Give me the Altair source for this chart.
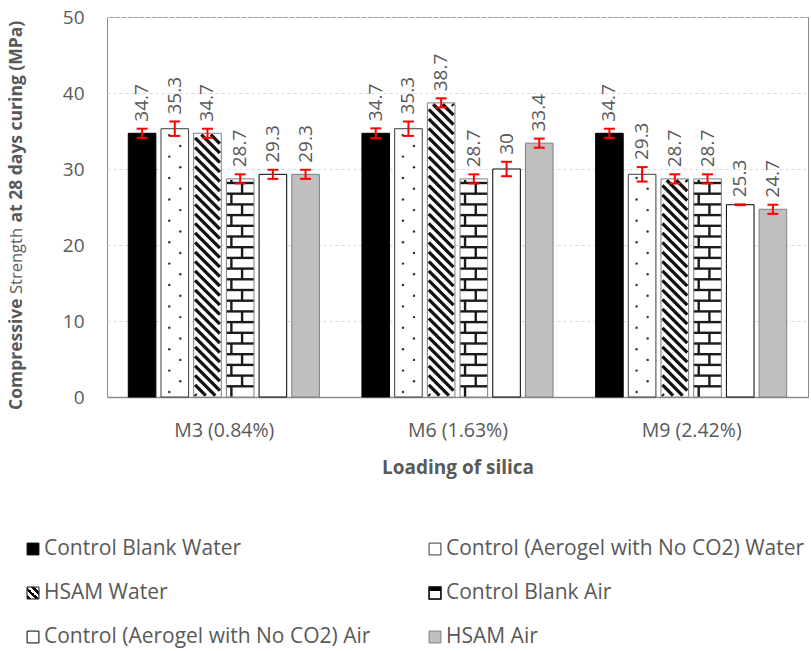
import json
import altair as alt
import pandas as pd

# ---------------- data ----------------
groups = ["M3 (0.84%)", "M6 (1.63%)", "M9 (2.42%)"]
series = [
    "Control Blank Water",
    "Control (Aerogel with No CO2) Water",
    "HSAM Water",
    "Control Blank Air",
    "Control (Aerogel with No CO2) Air",
    "HSAM Air",
]

control_blank_water = [34.7, 34.7, 34.7]
control_aerogel_water = [35.3, 35.3, 29.3]
hsam_water = [34.7, 38.7, 28.7]
control_blank_air = [28.7, 28.7, 28.7]
control_aerogel_air = [29.3, 30.0, 25.3]
hsam_air = [29.3, 33.4, 24.7]

err_control_blank_water = [0.6, 0.65, 0.6]
err_control_aerogel_water = [0.95, 0.95, 0.95]
err_hsam_water = [0.6, 0.6, 0.6]
err_control_blank_air = [0.6, 0.6, 0.6]
err_control_aerogel_air = [0.6, 0.95, 0.05]
err_hsam_air = [0.6, 0.6, 0.6]

y_ticks = [0, 10, 20, 30, 40, 50]

# ---------------- layout / style constants ----------------
W, H = 701, 380
LEFT, TOP = 107, 17
Y_MAX = 50
PX_X = W / 3.0
PX_Y = H / Y_MAX
PITCH = 32.7 / PX_X
HALF = 13.8 / PX_X
BAR_PX = 27.6
CAP = 5.5 / PX_X
GRAY_TXT = "#595959"

values_by_series = [control_blank_water, control_aerogel_water, hsam_water,
                    control_blank_air, control_aerogel_air, hsam_air]
errs_by_series = [err_control_blank_water, err_control_aerogel_water, err_hsam_water,
                  err_control_blank_air, err_control_aerogel_air, err_hsam_air]

rows = []
for gi, g in enumerate(groups):
    for si, s in enumerate(series):
        v = values_by_series[si][gi]
        e = errs_by_series[si][gi]
        c = gi + 0.5 + (si - 2.5) * PITCH
        rows.append(dict(group=g, series=s, value=v, err=e, base=0.0, center=c,
                         left=c - HALF, right=c + HALF, lo=v - e, hi=v + e,
                         label=f"{v:g}"))
bars = pd.DataFrame(rows)

caps = pd.concat([
    bars.assign(cy=bars["lo"], cl=bars["center"] - CAP, cr=bars["center"] + CAP),
    bars.assign(cy=bars["hi"], cl=bars["center"] - CAP, cr=bars["center"] + CAP),
])

# --- pattern geometry derived from the bar values ---
hatch, dots, brick_h, brick_v = [], [], [], []
for r in rows:
    hpx = r["value"] * PX_Y
    w = BAR_PX
    x0 = r["left"]
    if r["series"] == "HSAM Water":
        m = 1.4
        k = 4.0
        while k < hpx + w:
            u1 = max(m, k - (hpx - m))
            u2 = min(w - m, k - m)
            if u2 - u1 > 0.8:
                hatch.append(dict(xa=x0 + u1 / PX_X, ya=(k - u1) / PX_Y,
                                  xb=x0 + u2 / PX_X, yb=(k - u2) / PX_Y))
            k += 9.5
    elif r["series"] == "Control (Aerogel with No CO2) Water":
        v = 5.0
        j = 0
        while v < hpx - 3:
            u = 0.30 * w if j % 2 == 0 else 0.70 * w
            dots.append(dict(dx_=x0 + u / PX_X, dy_=v / PX_Y))
            v += 10.7
            j += 1
    elif r["series"] == "Control Blank Air":
        step = 10.7
        n = 1
        while n * step < hpx - 1.5:
            brick_h.append(dict(hl=x0, hr=r["right"], hy=n * step / PX_Y))
            n += 1
        j = 0
        while j * step < hpx - 1:
            lo = j * step
            hi = min((j + 1) * step, hpx - 1)
            us = [5.0, 26.3] if j % 2 == 0 else [15.7]
            for u in us:
                if 1.5 < u < w - 1.5:
                    brick_v.append(dict(vx=x0 + u / PX_X, vlo=lo / PX_Y, vhi=hi / PX_Y))
            j += 1

hatch = pd.DataFrame(hatch)
dots = pd.DataFrame(dots)
brick_h = pd.DataFrame(brick_h)
brick_v = pd.DataFrame(brick_v)

# legend placed below the plot, expressed in the chart's own data units
def x_units(px_abs):
    return (px_abs - LEFT) / PX_X

def y_units(py_abs):
    return Y_MAX - (py_abs - TOP) / PX_Y

legend_df = pd.DataFrame({
    "name": series,
    "lx": [x_units(33), x_units(435)] * 3,
    "ly": [y_units(549)] * 2 + [y_units(593)] * 2 + [y_units(637)] * 2,
})

# ---------------- scales / axes ----------------
SX = alt.Scale(domain=[0, 3], nice=False, zero=False)
SY = alt.Scale(domain=[0, Y_MAX], nice=False, zero=True)

fill_scale = alt.Scale(domain=series, range=["#000000", "#ffffff", "#ffffff", "#ffffff", "#ffffff", "#bfbfbf"])
stroke_scale = alt.Scale(domain=series, range=["#000000", "#3a3a3a", "#7f7f7f", "#7f7f7f", "#000000", "#7f7f7f"])
sw_scale = alt.Scale(domain=series, range=[1, 1, 1, 1, 3, 1])

label_expr = json.dumps(groups) + "[floor(datum.value)]"

x_axis = alt.Axis(values=[0.5, 1.5, 2.5], labelExpr=label_expr, title="Loading of silica",
                  ticks=False, grid=False, domain=True, domainColor="#8c8c8c", domainWidth=1.5,
                  labelFontSize=19.5, labelColor=GRAY_TXT, labelPadding=24,
                  titleFontSize=19, titleFontWeight="bold", titleColor=GRAY_TXT, titlePadding=19)
y_axis = alt.Axis(values=y_ticks, title=None, ticks=False, domain=False, grid=True,
                  gridColor="#d9d9d9", gridDash=[3, 3], gridWidth=1,
                  labelFontSize=19, labelColor=GRAY_TXT, labelPadding=23)

base = alt.Chart(bars)

bar_fill = base.mark_rect(strokeWidth=0).encode(
    x=alt.X("left:Q", scale=SX, axis=x_axis),
    x2="right:Q",
    y=alt.Y("value:Q", scale=SY, axis=y_axis),
    y2="base:Q",
    fill=alt.Fill("series:N", scale=fill_scale, legend=None),
)

hatch_layer = alt.Chart(hatch).mark_rule(color="#111111", strokeWidth=3.3, strokeCap="butt").encode(
    x=alt.X("xa:Q", scale=SX, axis=x_axis), x2="xb:Q",
    y=alt.Y("ya:Q", scale=SY, axis=y_axis), y2="yb:Q",
)

dots_layer = alt.Chart(dots).mark_circle(color="#333333", size=6, opacity=1).encode(
    x=alt.X("dx_:Q", scale=SX, axis=x_axis),
    y=alt.Y("dy_:Q", scale=SY, axis=y_axis),
)

brick_h_layer = alt.Chart(brick_h).mark_rule(color="#1a1a1a", strokeWidth=2.4).encode(
    x=alt.X("hl:Q", scale=SX, axis=x_axis), x2="hr:Q",
    y=alt.Y("hy:Q", scale=SY, axis=y_axis),
)

brick_v_layer = alt.Chart(brick_v).mark_rule(color="#1a1a1a", strokeWidth=2.4).encode(
    x=alt.X("vx:Q", scale=SX, axis=x_axis),
    y=alt.Y("vlo:Q", scale=SY, axis=y_axis), y2="vhi:Q",
)

bar_outline = base.mark_rect(fillOpacity=0).encode(
    x=alt.X("left:Q", scale=SX, axis=x_axis),
    x2="right:Q",
    y=alt.Y("value:Q", scale=SY, axis=y_axis),
    y2="base:Q",
    stroke=alt.Stroke("series:N", scale=stroke_scale, legend=None),
    strokeWidth=alt.StrokeWidth("series:N", scale=sw_scale, legend=None),
)

err_layer = base.mark_rule(color="#ff0000", strokeWidth=2).encode(
    x=alt.X("center:Q", scale=SX, axis=x_axis),
    y=alt.Y("lo:Q", scale=SY, axis=y_axis), y2="hi:Q",
)

cap_layer = alt.Chart(caps).mark_rule(color="#ff0000", strokeWidth=2).encode(
    x=alt.X("cl:Q", scale=SX, axis=x_axis), x2="cr:Q",
    y=alt.Y("cy:Q", scale=SY, axis=y_axis),
)

label_layer = base.mark_text(angle=270, align="left", baseline="middle", dx=7,
                             fontSize=19, color=GRAY_TXT).encode(
    x=alt.X("center:Q", scale=SX, axis=x_axis),
    y=alt.Y("hi:Q", scale=SY, axis=y_axis),
    text="label:N",
)

# ---------------- custom legend ----------------
lbase = alt.Chart(legend_df)
swatch = lbase.mark_square(size=140, opacity=1).encode(
    x=alt.X("lx:Q", scale=SX, axis=x_axis),
    y=alt.Y("ly:Q", scale=SY, axis=y_axis),
    fill=alt.Fill("name:N", scale=fill_scale, legend=None),
    stroke=alt.Stroke("name:N", scale=stroke_scale, legend=None),
    strokeWidth=alt.StrokeWidth("name:N", scale=sw_scale, legend=None),
)

hatch_stops = []
for i in range(6):
    c = "#000000" if i % 2 == 0 else "#ffffff"
    hatch_stops.append(alt.GradientStop(color=c, offset=i / 6))
    hatch_stops.append(alt.GradientStop(color=c, offset=(i + 1) / 6))
hatch_grad = alt.LinearGradient(gradient="linear", stops=hatch_stops, x1=0, y1=1, x2=1, y2=0)

brick_grad = alt.LinearGradient(gradient="linear", stops=[
    alt.GradientStop(color="#000000", offset=0),
    alt.GradientStop(color="#000000", offset=0.3),
    alt.GradientStop(color="#ffffff", offset=0.3),
    alt.GradientStop(color="#ffffff", offset=1),
], x1=0, y1=0, x2=0, y2=1)

swatch_hatch = lbase.transform_filter(alt.datum.name == "HSAM Water").mark_square(
    size=140, opacity=1, fill=hatch_grad, stroke="#333333", strokeWidth=1).encode(
    x=alt.X("lx:Q", scale=SX, axis=x_axis),
    y=alt.Y("ly:Q", scale=SY, axis=y_axis),
)
swatch_brick = lbase.transform_filter(alt.datum.name == "Control Blank Air").mark_square(
    size=140, opacity=1, fill=brick_grad, stroke="#000000", strokeWidth=1.5).encode(
    x=alt.X("lx:Q", scale=SX, axis=x_axis),
    y=alt.Y("ly:Q", scale=SY, axis=y_axis),
)

leg_text = lbase.mark_text(align="left", baseline="middle", dx=11, fontSize=21, color=GRAY_TXT).encode(
    x=alt.X("lx:Q", scale=SX, axis=x_axis),
    y=alt.Y("ly:Q", scale=SY, axis=y_axis),
    text="name:N",
)

# ---------------- y-axis title (mixed weights) ----------------
one = pd.DataFrame({"k": [0]})
yt_parts = [("Compressive", "bold", 17.5, 393), ("Strength", "normal", 16.5, 277),
            ("at 28 days curing (MPa)", "bold", 17.5, 205.5)]
yt_layers = []
for txt, wgt, fs, ypos in yt_parts:
    yt_layers.append(
        alt.Chart(one).mark_text(angle=270, align="left", baseline="middle", fontSize=fs,
                                 fontWeight=wgt, color=GRAY_TXT).encode(
            x=alt.value(-90), y=alt.value(ypos), text=alt.value(txt))
    )

chart = alt.layer(
    bar_fill, hatch_layer, dots_layer, brick_h_layer, brick_v_layer,
    bar_outline, err_layer, cap_layer, label_layer,
    swatch, swatch_hatch, swatch_brick, leg_text, *yt_layers,
).properties(
    width=W, height=H,
    autosize=alt.AutoSizeParams(type="none"),
    padding={"left": LEFT, "top": TOP, "right": 811 - LEFT - W, "bottom": 651 - TOP - H},
).configure(
    font="Open Sans",
).configure_view(
    stroke="#8c8c8c", strokeWidth=1,
)

chart.save("out.html", embed_options={"renderer": "svg", "actions": False})
